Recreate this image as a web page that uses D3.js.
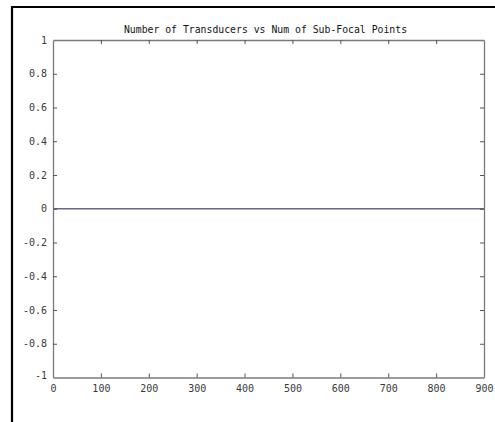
<!DOCTYPE html>
<html>
<head>
<meta charset="utf-8">
<script src="https://cdn.jsdelivr.net/npm/d3@7"></script>
<style>
html,body{margin:0;padding:0;background:#fff;}
svg{display:block;}
text{font-family:"DejaVu Sans Mono","Liberation Mono",monospace;}
</style>
</head>
<body>
<script>
const titleText = "Number of Transducers vs Num of Sub-Focal Points";
const xValues = [0, 900];
const yValues = [0, 0];
const xTicks = [0, 100, 200, 300, 400, 500, 600, 700, 800, 900];
const yTicks = [-1, -0.8, -0.6, -0.4, -0.2, 0, 0.2, 0.4, 0.6, 0.8, 1];
const xDomain = [0, 900];
const yDomain = [-1, 1];

const W = 495, H = 422;
const plot = {left: 53, right: 484, top: 40, bottom: 377.5};

const svg = d3.select("body").append("svg").attr("width", W).attr("height", H);

// outer frame (black, left and top edges visible)
svg.append("path")
  .attr("d", `M12,${H} L12,7 L${W},7`)
  .attr("fill", "none").attr("stroke", "#000").attr("stroke-width", 2.2);

const x = d3.scaleLinear().domain(xDomain).range([plot.left, plot.right]);
const y = d3.scaleLinear().domain(yDomain).range([plot.bottom, plot.top]);

const axisColor = "#7a7a7a";
const fmt = d => (d < 0 ? "-" : "") + String(Math.abs(+d.toFixed(1)));

// data line
const line = d3.line().x((d, i) => x(xValues[i])).y(d => y(d));
svg.append("path").datum(yValues)
  .attr("d", line)
  .attr("fill", "none").attr("stroke", "#66668e").attr("stroke-width", 1.3);

// axes
function styleAxis(g) {
  g.select(".domain").attr("stroke", axisColor).attr("stroke-width", 1.3);
  g.selectAll(".tick line").attr("stroke", "#555").attr("stroke-width", 1);
  g.selectAll(".tick text").attr("fill", "#3a3a3a").style("font-size", "10px")
    .style("font-family", "'DejaVu Sans Mono','Liberation Mono',monospace");
}

const bottomAxis = d3.axisBottom(x).tickValues(xTicks).tickSizeInner(-4).tickSizeOuter(0).tickPadding(7).tickFormat(d => d);
const gB = svg.append("g").attr("transform", `translate(0,${plot.bottom})`).call(bottomAxis);
styleAxis(gB);
gB.selectAll(".tick").filter(d => d === 0 || d === 900).select("line").remove();

const topAxis = d3.axisTop(x).tickValues(xTicks).tickSizeInner(-4).tickSizeOuter(0).tickFormat("");
const gT = svg.append("g").attr("transform", `translate(0,${plot.top})`).call(topAxis);
styleAxis(gT);
gT.selectAll(".tick").filter(d => d === 0 || d === 900).select("line").remove();

const leftAxis = d3.axisLeft(y).tickValues(yTicks).tickSizeInner(-4).tickSizeOuter(0).tickPadding(6).tickFormat(fmt);
const gL = svg.append("g").attr("transform", `translate(${plot.left},0)`).call(leftAxis);
styleAxis(gL);
gL.selectAll(".tick").filter(d => d === 1 || d === -1).select("line").remove();
gL.selectAll(".tick").filter(d => d === -1).select("text").attr("dy", "0.1em");

const rightAxis = d3.axisRight(y).tickValues(yTicks).tickSizeInner(-4).tickSizeOuter(0).tickFormat("");
const gR = svg.append("g").attr("transform", `translate(${plot.right},0)`).call(rightAxis);
styleAxis(gR);
gR.selectAll(".tick").filter(d => d === 1 || d === -1).select("line").remove();

// title
svg.append("text")
  .attr("x", (plot.left + plot.right) / 2 - 3)
  .attr("y", 33)
  .attr("text-anchor", "middle")
  .attr("fill", "#111")
  .style("font-size", "9.8px")
  .text(titleText);
</script>
</body>
</html>
